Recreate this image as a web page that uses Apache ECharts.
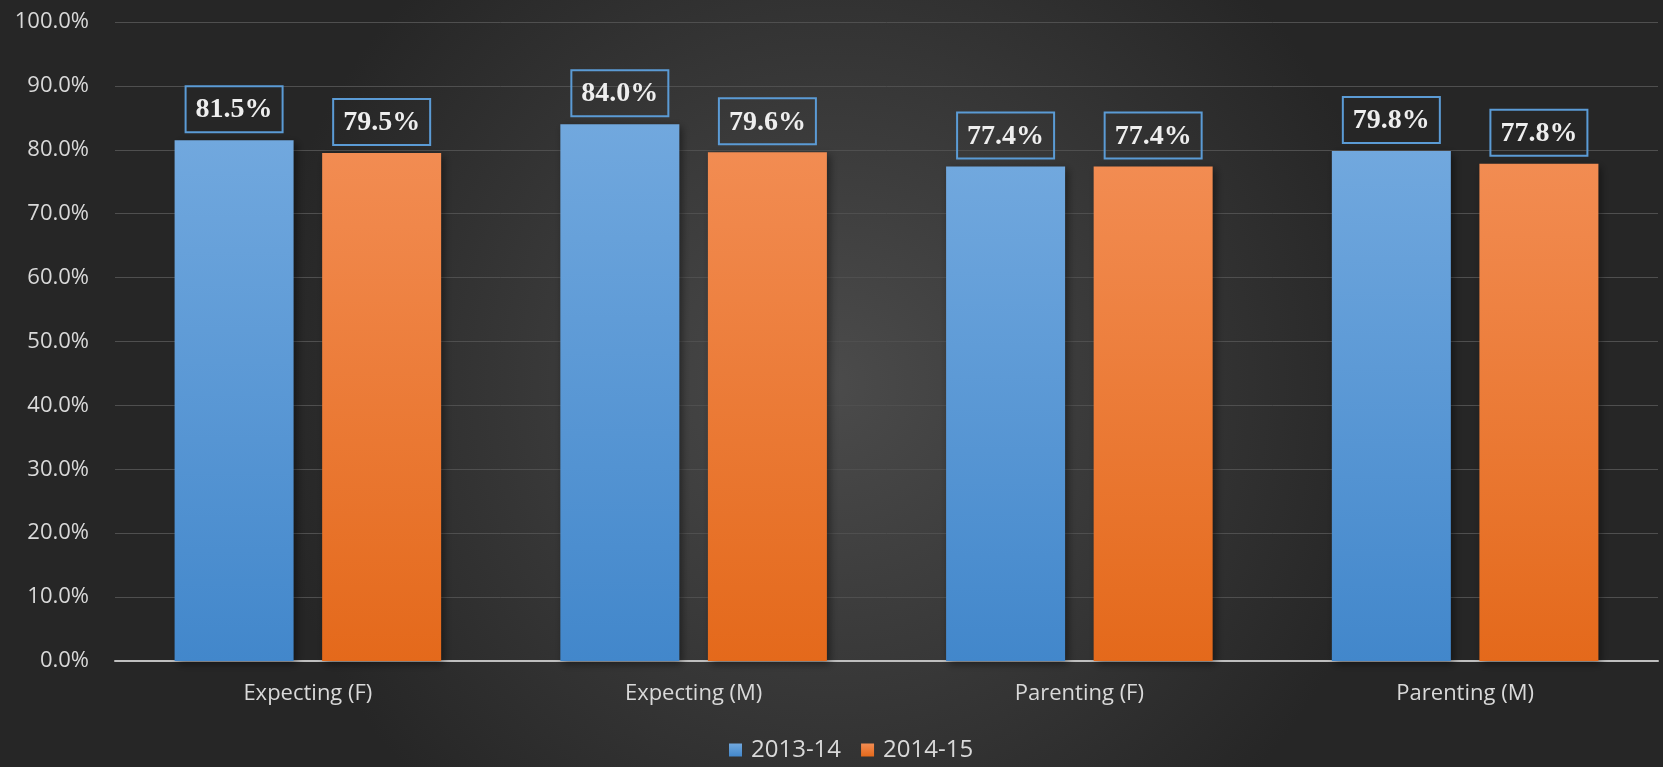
<!DOCTYPE html>
<html>
<head>
<meta charset="utf-8">
<script src="https://cdn.jsdelivr.net/npm/echarts@6/dist/echarts.min.js"></script>
<style>
  html, body { margin: 0; padding: 0; }
  #chart { width: 1663px; height: 767px; }
</style>
</head>
<body>
<div id="chart"></div>
<script>
// categories and series values (percent)
var categories = ['Expecting (F)', 'Expecting (M)', 'Parenting (F)', 'Parenting (M)'];
var seriesNames = ['2013-14', '2014-15'];
var values1314 = [81.5, 84.0, 77.4, 79.8];
var values1415 = [79.5, 79.6, 77.4, 77.8];

var myChart = echarts.init(document.getElementById('chart'));

// shared label style for the boxed value labels
function boxLabel() {
    return {
        show: true,
        position: 'top',
        distance: 8,
        formatter: function (p) { return p.value.toFixed(1) + '%'; },
        fontFamily: '"Liberation Serif", serif',
        fontWeight: 'bold',
        fontSize: 28,
        color: '#eeeeee',
        borderColor: '#5b9bd5',
        borderWidth: 2,
        padding: [10, 10, 8, 10]
    };
}

var option = {
    backgroundColor: {
        type: 'radial', x: 0.5, y: 0.5, r: 0.75,
        colorStops: [
            { offset: 0, color: '#4b4b4b' },
            { offset: 1, color: '#262626' }
        ]
    },
    animation: false,
    grid: { left: 115, right: 5, top: 22, bottom: 106 },
    legend: {
        data: seriesNames,
        bottom: 0,
        left: 724,
        itemWidth: 13,
        itemHeight: 13,
        itemGap: 20,
        icon: 'rect',
        textStyle: { color: '#d9d9d9', fontSize: 24, padding: [0, 0, 0, 4], fontFamily: '"Open Sans", sans-serif' }
    },
    xAxis: {
        type: 'category',
        data: categories,
        axisTick: { show: false },
        axisLine: { lineStyle: { color: '#bfbfbf', width: 2 } },
        axisLabel: { color: '#d9d9d9', fontSize: 22, margin: 22, fontFamily: '"Open Sans", sans-serif' }
    },
    yAxis: {
        type: 'value',
        min: 0,
        max: 100,
        interval: 10,
        axisLine: { show: false },
        axisTick: { show: false },
        splitLine: { lineStyle: { color: '#4f4f4f', width: 1 } },
        axisLabel: {
            color: '#d9d9d9', fontSize: 22, margin: 26, fontFamily: '"Open Sans", sans-serif',
            formatter: function (v) { return v.toFixed(1) + '%'; }
        }
    },
    series: [
        {
            name: seriesNames[0],
            type: 'bar',
            data: values1314,
            barWidth: 119,
            barGap: '24%',
            itemStyle: {
                color: {
                    type: 'linear', x: 0, y: 0, x2: 0, y2: 1,
                    colorStops: [
                        { offset: 0, color: '#71a8de' },
                        { offset: 1, color: '#4287cb' }
                    ]
                },
                shadowColor: 'rgba(0,0,0,0.45)', shadowBlur: 8, shadowOffsetX: 3, shadowOffsetY: 3
            },
            label: boxLabel()
        },
        {
            name: seriesNames[1],
            type: 'bar',
            data: values1415,
            barWidth: 119,
            itemStyle: {
                color: {
                    type: 'linear', x: 0, y: 0, x2: 0, y2: 1,
                    colorStops: [
                        { offset: 0, color: '#f28c52' },
                        { offset: 1, color: '#e4691b' }
                    ]
                },
                shadowColor: 'rgba(0,0,0,0.45)', shadowBlur: 8, shadowOffsetX: 3, shadowOffsetY: 3
            },
            label: boxLabel()
        }
    ]
};

myChart.setOption(option);
</script>
</body>
</html>
